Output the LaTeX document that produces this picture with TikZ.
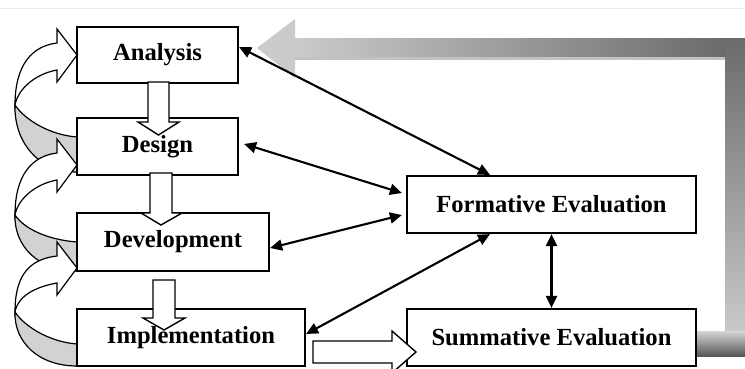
\documentclass[tikz,border=0pt]{standalone}
\usepackage{fontspec}
\setmainfont{Liberation Serif}
\usetikzlibrary{arrows.meta,calc}
\definecolor{barlight}{HTML}{CBCBCB}
\definecolor{bardark}{HTML}{6B6B6B}
\definecolor{barband}{HTML}{C2C2C2}
\definecolor{backgray}{HTML}{D2D2D2}
\definecolor{topline}{HTML}{EBEBEB}
\tikzset{
  box/.style={draw=black, fill=white, line width=2.2pt, inner sep=0pt,
    font=\bfseries\fontsize{24.6}{28}\selectfont},
  dbl/.style={{Triangle[length=12pt,width=11pt]}-{Triangle[length=12pt,width=11pt]}, line width=2.1pt},
  blockarr/.style={draw=black, fill=white, line width=1.4pt, line join=miter},
  curvline/.style={draw=black, line width=1.2pt, line join=miter}
}
% #1 tip y, #2 leftmost y, #3 tail top y, #4 tail bottom y
\newcommand\CurvArr[4]{%
  \filldraw[curvline, fill=backgray] (15,#2) .. controls (25,{#2+15}) and (50,{#3-2}) .. (77,#3)
     -- (77,#4) .. controls (38,#4) and (14,{#2+0.55*(#4-#2)}) .. (15,#2) -- cycle;
  \filldraw[curvline, fill=white] (57,{#1-12}) -- (57,{#1-26}) -- (77,#1) -- (57,{#1+27}) -- (57,{#1+15})
     .. controls (35,{#1+19}) and (18,{#2-16}) .. (15,#2)
     .. controls (15,{#2-40}) and (32,{#1-9}) .. (57,{#1-12}) -- cycle;
}
\begin{document}
\begin{tikzpicture}[x=1pt,y=-1pt]
\useasboundingbox (0,0) rectangle (745,369);
\clip (0,0) rectangle (745,369);
\fill[white] (0,0) rectangle (745,369);
\draw[topline, line width=1pt] (0,9) -- (745,9);

% gray feedback frame arrow
\fill[barlight] (257,48) -- (295,19) -- (295,78) -- cycle;
\fill[barband] (295,57) rectangle (725,60);
\shade[left color=barlight, right color=bardark] (294.5,39) rectangle (725,57);
\shade[top color=bardark, bottom color=barlight!90!white] (725,39) rectangle (745,356);
\shade[top color=barlight!80!white, bottom color=bardark!80!black] (696,331) rectangle (745,356);

% curved iteration arrows
\CurvArr{55}{105}{137}{172}
\CurvArr{165}{215}{242}{271}
\CurvArr{268}{312}{344}{366}

% boxes
\node[box, minimum width=161pt, minimum height=56pt] (an) at (157.5,55) {Analysis};
\node[box, minimum width=161pt, minimum height=57pt] (de) at (157.5,146.5) {Design};
\node[box, minimum width=192pt, minimum height=58pt] (dv) at (173,242) {Development};
\node[box, minimum width=228pt, minimum height=57pt] (im) at (191,337.5) {Implementation};
\node[box, minimum width=289pt, minimum height=57pt] (fe) at (551.5,204.5) {Formative Evaluation};
\node[box, minimum width=289pt, minimum height=57pt] (su) at (551.5,337.5) {Summative Evaluation};

% block arrows
\filldraw[blockarr] (148,82) -- (148,122) -- (138,122) -- (158.5,135) -- (179,122) -- (169,122) -- (169,82) -- cycle;
\filldraw[blockarr] (150,173) -- (150,213) -- (141,213) -- (161,225) -- (182,213) -- (172,213) -- (172,173) -- cycle;
\filldraw[blockarr] (153,280) -- (153,318) -- (143,318) -- (164,330) -- (185,318) -- (175,318) -- (175,280) -- cycle;
\filldraw[blockarr] (313,341) -- (392,341) -- (392,331) -- (416,352) -- (392,373) -- (392,363) -- (313,363) -- cycle;

% evaluation connectors
\draw[dbl] ([yshift=8pt]an.east) -- ([xshift=-61.5pt]fe.north);
\draw[dbl] ([xshift=5pt,yshift=2.5pt]de.east) -- ([xshift=-4pt,yshift=11.5pt]fe.west);
\draw[dbl] ([yshift=-6pt]dv.east) -- ([xshift=-4pt,yshift=-10.5pt]fe.west);
\draw[dbl] ([yshift=3.5pt]im.east) -- ([xshift=-61.5pt]fe.south);
\draw[dbl] (fe.south) -- (su.north);
\end{tikzpicture}
\end{document}
